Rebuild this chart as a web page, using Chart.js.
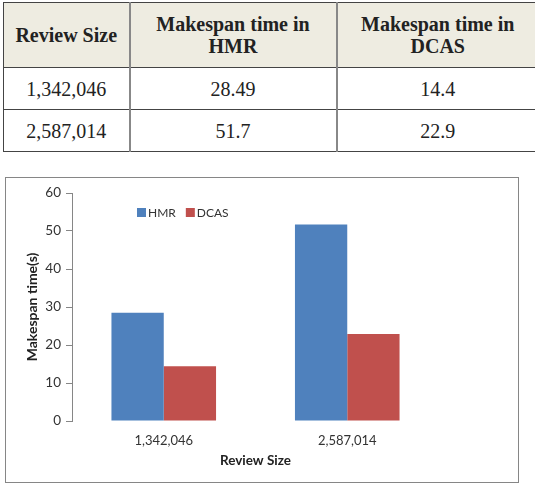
<!DOCTYPE html>
<html>
<head>
<meta charset="utf-8">
<script src="https://cdn.jsdelivr.net/npm/chart.js@4.4.1/dist/chart.umd.min.js"></script>
<style>
    html, body { margin: 0; padding: 0; background: #fff; width: 535px; height: 484px; overflow: hidden; }
    #dataTable {
        position: absolute; left: 3px; top: 2px;
        width: 535px;
        border-collapse: collapse;
        color: #222;
        table-layout: fixed;
    }
    #dataTable td, #dataTable th {
        font-family: "Liberation Serif", "Times New Roman", "DejaVu Serif", serif;
        border: 1px solid #444;
        text-align: center;
        vertical-align: middle;
        font-size: 20px;
        line-height: 22px;
        padding: 0;
    }
    #dataTable th { background: #eeece1; font-weight: bold; height: 64px; }
    #dataTable td { font-weight: normal; height: 41px; }
    #dataTable .c1 { border-right: 2px solid #888; }
    #dataTable .c2 { border-right: 2px solid #888; }
    #chartBox {
        position: absolute; left: 5px; top: 177px;
        width: 512px; height: 304px;
        border: 1px solid #868686;
    }
</style>
</head>
<body>
<table id="dataTable">
    <colgroup><col style="width:126px"><col style="width:207px"><col style="width:202px"></colgroup>
    <thead>
        <tr><th class="c1">Review Size</th><th class="c2">Makespan time in<br>HMR</th><th>Makespan time in<br>DCAS</th></tr>
    </thead>
    <tbody id="tableBody"></tbody>
</table>
<div id="chartBox"><canvas id="makespanChart"></canvas></div>
<script>
// Data
const reviewSizes = ['1,342,046', '2,587,014'];
const hmrTimes = [28.49, 51.7];
const dcasTimes = [14.4, 22.9];
const seriesNames = ['HMR', 'DCAS'];
const yTicks = [0, 10, 20, 30, 40, 50, 60];

// Fill the table from the same arrays
const tableBody = document.getElementById('tableBody');
reviewSizes.forEach((size, i) => {
    const row = document.createElement('tr');
    row.innerHTML = `
        <td class="c1">${size}</td>
        <td class="c2">${hmrTimes[i]}</td>
        <td>${dcasTimes[i]}</td>
    `;
    tableBody.appendChild(row);
});

Chart.defaults.font.family = 'Lato, "Open Sans", sans-serif';

// Legend drawn inside the plot area, like the Excel original
const insideLegend = {
    id: 'insideLegend',
    afterDraw(chart) {
        const ctx = chart.ctx;
        ctx.save();
        ctx.font = '12px Lato';
        ctx.textBaseline = 'middle';
        let x = 131;
        const y = 35;
        chart.data.datasets.forEach(ds => {
            ctx.fillStyle = ds.backgroundColor;
            ctx.fillRect(x, y - 5, 9, 9);
            x += 11;
            ctx.fillStyle = '#333';
            ctx.fillText(ds.label, x, y);
            x += ctx.measureText(ds.label).width + 10;
        });
        ctx.restore();
    }
};

const ctx = document.getElementById('makespanChart').getContext('2d');
const makespanChart = new Chart(ctx, {
    type: 'bar',
    data: {
        labels: reviewSizes,
        datasets: [{
            label: seriesNames[0],
            data: hmrTimes,
            backgroundColor: '#4f81bd',
            categoryPercentage: 0.57,
            barPercentage: 1.0
        }, {
            label: seriesNames[1],
            data: dcasTimes,
            backgroundColor: '#c0504d',
            categoryPercentage: 0.57,
            barPercentage: 1.0
        }]
    },
    options: {
        responsive: true,
        maintainAspectRatio: false,
        animation: false,
        layout: {
            padding: { left: 14, top: 15, right: 79, bottom: 9 }
        },
        plugins: {
            legend: { display: false },
            tooltip: { enabled: false }
        },
        scales: {
            x: {
                grid: { display: false },
                border: { display: false },
                ticks: {
                    color: '#333',
                    font: { size: 13 },
                    padding: 4,
                    maxRotation: 0
                },
                title: {
                    display: true,
                    text: 'Review Size',
                    color: '#222',
                    font: { size: 13.5, weight: 'bold' },
                    padding: { top: 4, bottom: 4 }
                },
                afterFit(scale) { scale.height = 52; }
            },
            y: {
                min: 0,
                max: 60,
                afterBuildTicks(scale) { scale.ticks = yTicks.map(v => ({ value: v })); },
                grid: {
                    drawOnChartArea: false,
                    drawTicks: true,
                    tickLength: 6,
                    color: '#868686'
                },
                border: { display: true, color: '#868686' },
                ticks: {
                    color: '#333',
                    font: { size: 13.5 },
                    padding: 5
                },
                title: {
                    display: true,
                    text: 'Makespan time(s)',
                    color: '#222',
                    font: { size: 14, weight: 'bold' },
                    padding: { top: 4, bottom: 4 }
                },
                afterFit(scale) { scale.width = 52; }
            }
        }
    },
    plugins: [insideLegend]
});
</script>
</body>
</html>
